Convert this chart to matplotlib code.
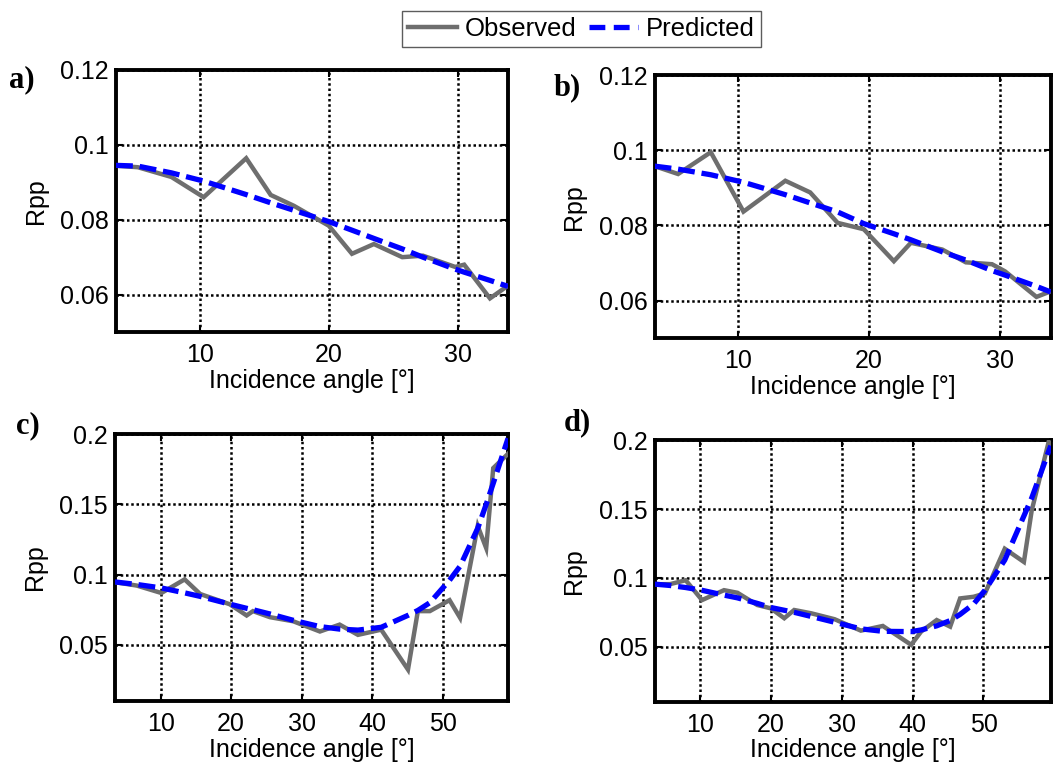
import matplotlib
matplotlib.use('Agg')
import matplotlib.pyplot as plt
from matplotlib.ticker import FormatStrFormatter
from matplotlib.lines import Line2D

plt.rcParams['font.family'] = ['Liberation Sans', 'DejaVu Sans']

# panel a
ang_a = [3.5, 5.2, 7.8, 10.3, 13.6, 15.5, 17.3, 20.0, 21.8, 23.5, 25.7, 27.3, 29.8, 30.5, 32.5, 33.9]
obs_a = [0.0944, 0.0940, 0.0914, 0.0860, 0.0964, 0.0866, 0.0837, 0.0784, 0.0709, 0.0735,
         0.0700, 0.0704, 0.0674, 0.0680, 0.0590, 0.0624]
pred_a = [0.0945, 0.0943, 0.0925, 0.0903, 0.0867, 0.0845, 0.0825, 0.0795, 0.0772, 0.0750,
          0.0722, 0.0700, 0.0668, 0.0660, 0.0638, 0.0622]

# panel b
ang_b = [3.6, 5.4, 7.9, 10.4, 13.6, 15.5, 17.6, 19.6, 21.9, 23.2, 25.6, 27.4, 29.4, 30.4, 32.8, 33.9]
obs_b = [0.0958, 0.0937, 0.0995, 0.0837, 0.0919, 0.0888, 0.0807, 0.0790, 0.0705, 0.0754,
         0.0736, 0.0702, 0.0697, 0.0678, 0.0610, 0.0625]
pred_b = [0.0958, 0.0950, 0.0935, 0.0915, 0.0882, 0.0860, 0.0836, 0.0805, 0.0778, 0.0762,
          0.0730, 0.0708, 0.0680, 0.0668, 0.0638, 0.0623]

# panel c
ang_c = [3.5, 6.6, 10.1, 13.4, 15.6, 19.8, 22.2, 23.1, 25.5, 28.8, 32.6, 35.4, 38.0, 41.3,
         45.1, 46.5, 48.2, 51.0, 52.5, 55.0, 56.2, 57.2, 59.3]
obs_c = [0.0946, 0.0922, 0.0869, 0.0966, 0.0862, 0.0789, 0.0709, 0.0740, 0.0697, 0.0668,
         0.0595, 0.0644, 0.0571, 0.0608, 0.0324, 0.0740, 0.0740, 0.0818, 0.0692, 0.1346,
         0.1189, 0.1758, 0.1860]
pred_c = [0.0948, 0.0930, 0.0905, 0.0870, 0.0845, 0.0790, 0.0760, 0.0750, 0.0720, 0.0675,
          0.0630, 0.0612, 0.0605, 0.0625, 0.0710, 0.0745, 0.0800, 0.0960, 0.1060, 0.1330,
          0.1500, 0.1650, 0.1970]

# panel d
ang_d = [3.6, 5.8, 8.0, 10.3, 13.4, 15.3, 18.1, 20.0, 21.9, 23.3, 25.7, 29.0, 32.7, 35.8,
         39.8, 41.2, 43.4, 45.3, 46.7, 48.6, 50.2, 53.0, 55.7, 56.8, 59.2, 59.5]
obs_d = [0.0954, 0.0955, 0.0983, 0.0839, 0.0911, 0.0892, 0.0803, 0.0779, 0.0707, 0.0767,
         0.0743, 0.0700, 0.0617, 0.0651, 0.0514, 0.0610, 0.0694, 0.0646, 0.0851, 0.0863,
         0.0887, 0.1212, 0.1116, 0.1489, 0.1990, 0.1960]
pred_d = [0.0955, 0.0945, 0.0930, 0.0910, 0.0875, 0.0855, 0.0815, 0.0785, 0.0765, 0.0750,
          0.0720, 0.0678, 0.0630, 0.0612, 0.0610, 0.0622, 0.0652, 0.0690, 0.0735, 0.0810,
          0.0910, 0.1130, 0.1450, 0.1580, 0.1920, 0.1960]

yticks_top = [0.06, 0.08, 0.1, 0.12]
yticks_bot = [0.05, 0.1, 0.15, 0.2]

fig = plt.figure(figsize=(10.54, 7.67), dpi=100)

panels = [
    ('a)', [0.110, 0.567, 0.372, 0.342], ang_a, obs_a, pred_a, (0.05, 0.12), yticks_top, [10, 20, 30], (9, 767 - 87)),
    ('b)', [0.621, 0.559, 0.376, 0.343], ang_b, obs_b, pred_b, (0.05, 0.12), yticks_top, [10, 20, 30], (554, 767 - 95)),
    ('c)', [0.109, 0.086, 0.373, 0.348], ang_c, obs_c, pred_c, (0.01, 0.2), yticks_bot, [10, 20, 30, 40, 50], (16, 767 - 433)),
    ('d)', [0.621, 0.085, 0.376, 0.341], ang_d, obs_d, pred_d, (0.01, 0.2), yticks_bot, [10, 20, 30, 40, 50], (564, 767 - 430)),
]

for lab, rect, x, obs, pred, ylim, yt, xt, lpos in panels:
    ax = fig.add_axes(rect)
    ax.plot(x, obs, color='#6e6e6e', lw=3.2, solid_joinstyle='miter', zorder=3)
    ax.plot(x, pred, color='#0000ff', lw=3.8, linestyle=(0, (3.2, 1.3)), zorder=4)
    ax.set_xlim(x[0], x[-1])
    ax.set_ylim(*ylim)
    ax.set_xticks(xt)
    ax.set_yticks(yt)
    ax.yaxis.set_major_formatter(FormatStrFormatter('%g'))
    ax.grid(True, color='black', linestyle=(0, (1, 1.1)), lw=1.8)
    ax.tick_params(direction='in', length=5, width=1.5, labelsize=18, pad=5, colors='black',
                   top=True, right=True)
    ax.tick_params(axis='x', pad=8)
    for s in ax.spines.values():
        s.set_linewidth(2.8)
        s.set_color('black')
    ax.set_xlabel('Incidence angle [°]', fontsize=18, labelpad=1)
    ax.set_ylabel('Rpp', fontsize=18, labelpad=9)
    fig.text(lpos[0] / 1054, lpos[1] / 767, lab, fontsize=22, fontweight='bold',
             family='Liberation Serif', ha='left', va='baseline')

handles = [Line2D([], [], color='#6e6e6e', lw=3.2),
           Line2D([], [], color='#0000ff', lw=3.8, linestyle=(0, (3.0, 1.6)))]
leg = fig.legend(handles, ['Observed', 'Predicted'], loc='center', bbox_to_anchor=(0.5517, 0.9622),
                 ncol=2, fontsize=18.5, frameon=True, fancybox=False, edgecolor='#333333',
                 handlelength=1.9, handletextpad=0.3, columnspacing=0.5, borderpad=0.25,
                 borderaxespad=0)
leg.get_frame().set_linewidth(1.0)

fig.savefig('out.png', dpi=100)
